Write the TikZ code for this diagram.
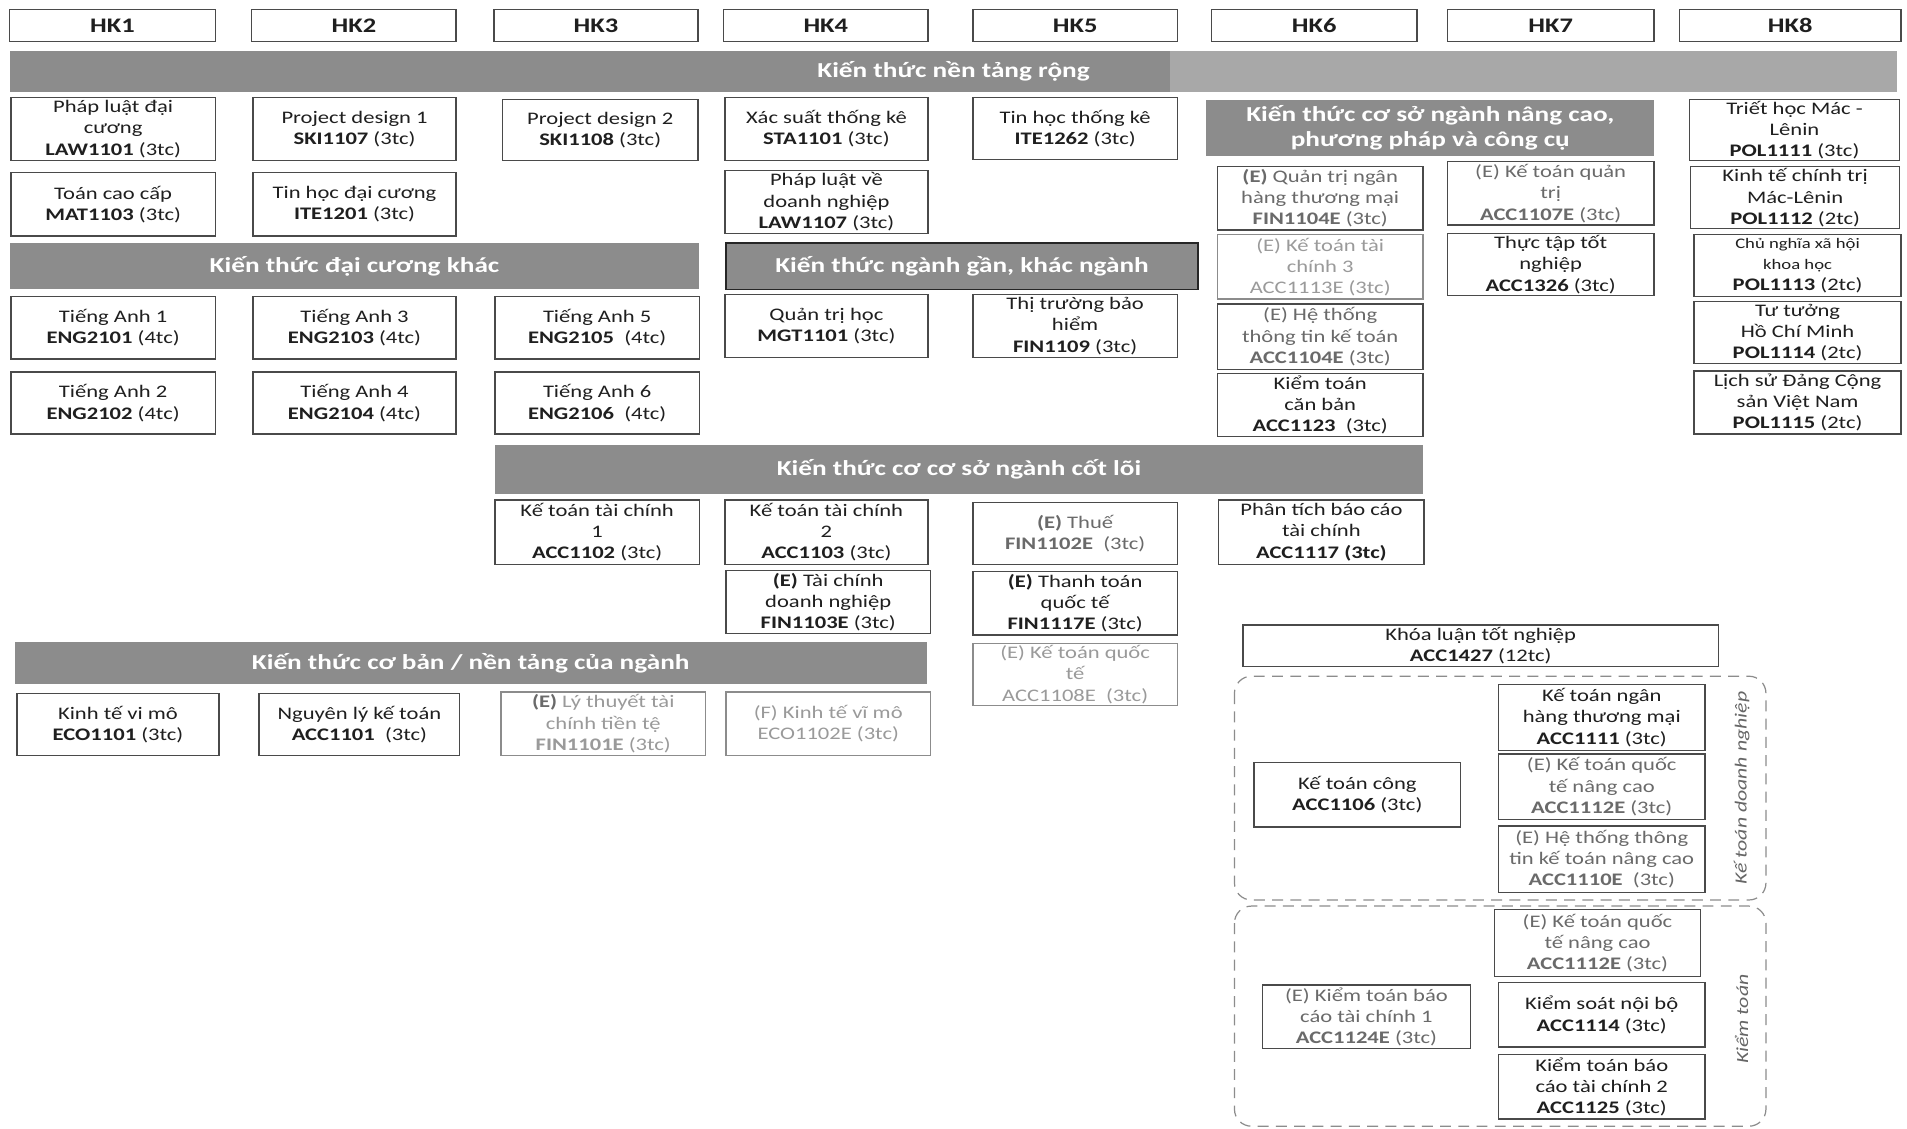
\documentclass[tikz,border=0pt]{standalone}
\usepackage{fontspec}
\setmainfont{Carlito}[FakeStretch=1.28]
\definecolor{bannergray}{HTML}{8C8C8C}
\definecolor{bannerlight}{HTML}{A8A8A8}
\definecolor{boxline}{HTML}{4A4A4A}
\definecolor{fadetext}{HTML}{9A9A9A}
\definecolor{midtext}{HTML}{6A6A6A}
\newcommand\cb[7]{\node[box,#6,minimum width={(#4-#2)*1pt},minimum height={(#5-#3)*1pt}] (#1) at ({(#2+#4)/2},{(#3+#5)/2}) {#7};}
\newcommand\bn[7]{\node[banner,#6,minimum width={(#4-#2)*1pt},minimum height={(#5-#3)*1pt}] (#1) at ({(#2+#4)/2},{(#3+#5)/2}) {#7};}
\tikzset{
  box/.style={draw=boxline, line width=1.2pt, fill=white, inner sep=1pt, align=center,
    text=black!88, font=\fontsize{14.5}{17.5}\selectfont},
  hk/.style={font=\fontsize{17}{20}\selectfont\bfseries},
  faded/.style={draw=black!45, text=fadetext},
  mid/.style={text=midtext},
  banner/.style={fill=bannergray, draw=none, inner sep=1pt, align=center, text=white,
    font=\fontsize{17.5}{22}\selectfont\bfseries},
  grp/.style={draw=black!45, line width=1pt, dash pattern=on 9pt off 6pt, rounded corners=14pt},
  grplabel/.style={rotate=90, text=black!60, font=\fontsize{14}{17}\selectfont\itshape}
}
\begin{document}
\begin{tikzpicture}[x=1pt,y=-1pt]
\useasboundingbox[fill=white] (0,0) rectangle (1568,928.3);
% headers
\cb{hk1}{8}{8}{177}{34}{hk}{HK1}
\cb{hk2}{207}{8}{375}{34}{hk}{HK2}
\cb{hk3}{406}{8}{574}{34}{hk}{HK3}
\cb{hk4}{595}{8}{763}{34}{hk}{HK4}
\cb{hk5}{800}{8}{968}{34}{hk}{HK5}
\cb{hk6}{996}{8}{1165}{34}{hk}{HK6}
\cb{hk7}{1190}{8}{1360}{34}{hk}{HK7}
\cb{hk8}{1381}{8}{1563}{34}{hk}{HK8}
% banners
\bn{bA}{8}{42}{1560}{76}{}{Kiến thức nền tảng rộng}
\fill[bannerlight] (962,42) rectangle (1560,76);
\bn{bB}{992}{82}{1360}{128}{font=\fontsize{17.5}{21}\selectfont\bfseries}{Kiến thức cơ sở ngành nâng cao,\\phương pháp và công cụ}
\bn{bC}{8}{200}{575}{238}{}{Kiến thức đại cương khác}
\bn{bD}{597}{200}{985}{238}{draw=black!85, line width=1.5pt}{Kiến thức ngành gần, khác ngành}
\bn{bE}{407}{366}{1170}{406}{}{Kiến thức cơ cơ sở ngành cốt lõi}
\bn{bF}{12}{528}{762}{562}{}{Kiến thức cơ bản / nền tảng của ngành}
% row 1
\cb{law1101}{9}{80}{177}{132}{}{Pháp luật đại\\cương\\\textbf{LAW1101} (3tc)}
\cb{ski1107}{208}{80}{375}{132}{}{Project design 1\\\textbf{SKI1107} (3tc)}
\cb{ski1108}{413}{82}{574}{132}{}{Project design 2\\\textbf{SKI1108} (3tc)}
\cb{sta1101}{596}{80}{763}{132}{}{Xác suất thống kê\\\textbf{STA1101} (3tc)}
\cb{ite1262}{800}{80}{968}{131}{}{Tin học thống kê\\\textbf{ITE1262} (3tc)}
\cb{pol1111}{1389}{82}{1562}{132}{}{Triết học Mác -\\Lênin\\\textbf{POL1111} (3tc)}
% row 2
\cb{mat1103}{9}{142}{177}{194}{}{Toán cao cấp\\\textbf{MAT1103} (3tc)}
\cb{ite1201}{208}{142}{375}{194}{}{Tin học đại cương\\\textbf{ITE1201} (3tc)}
\cb{law1107}{596}{140}{763}{192}{}{Pháp luật về\\doanh nghiệp\\\textbf{LAW1107} (3tc)}
\cb{fin1104e}{1001}{137}{1170}{189}{mid}{\textbf{(E)} Quản trị ngân\\hàng thương mại\\\textbf{FIN1104E} (3tc)}
\cb{acc1107e}{1190}{133}{1360}{185}{mid}{(E) Kế toán quản\\trị\\\textbf{ACC1107E} (3tc)}
\cb{pol1112}{1390}{137}{1562}{188}{}{Kinh tế chính trị\\Mác-Lênin\\\textbf{POL1112} (2tc)}
\cb{acc1326}{1190}{192}{1360}{243}{}{Thực tập tốt\\nghiệp\\\textbf{ACC1326} (3tc)}
\cb{pol1113}{1393}{193}{1563}{244}{}{{\fontsize{12}{17.5}\selectfont Chủ nghĩa xã hội}\\{\fontsize{12}{17.5}\selectfont khoa học}\\\textbf{POL1113} (2tc)}
\cb{acc1113e}{1001}{193}{1170}{246}{faded}{(E) Kế toán tài\\chính 3\\ACC1113E (3tc)}
\cb{acc1104e}{1001}{250}{1170}{304}{mid}{(E) Hệ thống\\thông tin kế toán\\\textbf{ACC1104E} (3tc)}
\cb{pol1114}{1393}{248}{1563}{299}{}{Tư tưởng\\Hồ Chí Minh\\\textbf{POL1114} (2tc)}
\cb{acc1123}{1001}{307}{1170}{359}{}{Kiểm toán\\căn bản\\\textbf{ACC1123}\ \ (3tc)}
\cb{pol1115}{1393}{305}{1563}{357}{}{Lịch sử Đảng Cộng\\sản Việt Nam\\\textbf{POL1115} (2tc)}
% English and related
\cb{eng2101}{9}{244}{177}{295}{}{Tiếng Anh 1\\\textbf{ENG2101} (4tc)}
\cb{eng2103}{208}{244}{375}{295}{}{Tiếng Anh 3\\\textbf{ENG2103} (4tc)}
\cb{eng2105}{407}{244}{575}{295}{}{Tiếng Anh 5\\\textbf{ENG2105}\ \ (4tc)}
\cb{mgt1101}{596}{242}{763}{294}{}{Quản trị học\\\textbf{MGT1101} (3tc)}
\cb{fin1109}{800}{242}{968}{294}{}{Thị trường bảo\\hiểm\\\textbf{FIN1109} (3tc)}
\cb{eng2102}{9}{306}{177}{357}{}{Tiếng Anh 2\\\textbf{ENG2102} (4tc)}
\cb{eng2104}{208}{306}{375}{357}{}{Tiếng Anh 4\\\textbf{ENG2104} (4tc)}
\cb{eng2106}{407}{306}{575}{357}{}{Tiếng Anh 6\\\textbf{ENG2106}\ \ (4tc)}
% core
\cb{acc1102}{407}{411}{575}{464}{}{Kế toán tài chính\\1\\\textbf{ACC1102} (3tc)}
\cb{acc1103}{596}{411}{763}{464}{}{Kế toán tài chính\\2\\\textbf{ACC1103} (3tc)}
\cb{fin1102e}{800}{413}{968}{464}{mid}{\textbf{(E)} Thuế\\\textbf{FIN1102E}\ \ (3tc)}
\cb{acc1117}{1002}{411}{1171}{464}{}{Phân tích báo cáo\\tài chính\\\textbf{ACC1117 (3tc)}}
\cb{fin1103e}{597}{469}{765}{521}{}{\textbf{(E)} Tài chính\\doanh nghiệp\\\textbf{FIN1103E} (3tc)}
\cb{fin1117e}{800}{470}{968}{522}{}{\textbf{(E)} Thanh toán\\quốc tế\\\textbf{FIN1117E} (3tc)}
\cb{acc1108e}{800}{529}{968}{580}{faded}{(E) Kế toán quốc\\tế\\ACC1108E\ \ (3tc)}
\cb{acc1427}{1022}{514}{1413}{548}{}{Khóa luận tốt nghiệp\\\textbf{ACC1427} (12tc)}
% basic
\cb{eco1101}{14}{570}{180}{621}{}{Kinh tế vi mô\\\textbf{ECO1101} (3tc)}
\cb{acc1101}{213}{570}{378}{621}{}{Nguyên lý kế toán\\\textbf{ACC1101}\ \ (3tc)}
\cb{fin1101e}{412}{569}{580}{621}{faded}{\textbf{\color{midtext}(E)} Lý thuyết tài\\chính tiền tệ\\\textbf{FIN1101E} (3tc)}
\cb{eco1102e}{597}{569}{765}{621}{faded}{(F) Kinh tế vĩ mô\\ECO1102E (3tc)}
% group 1
\draw[grp] (1015,556) rectangle (1452,740);
\node[grplabel] (lbl1) at (1432,648) {Kế toán doanh nghiệp};
\cb{acc1111}{1232}{563}{1402}{617}{}{Kế toán ngân\\hàng thương mại\\\textbf{ACC1111} (3tc)}
\cb{acc1112ea}{1232}{620}{1402}{674}{mid}{(E) Kế toán quốc\\tế nâng cao\\\textbf{ACC1112E} (3tc)}
\cb{acc1110e}{1232}{679}{1402}{734}{mid}{(E) Hệ thống thông\\tin kế toán nâng cao\\\textbf{ACC1110E}\ \ (3tc)}
\cb{acc1106}{1031}{627}{1201}{680}{}{Kế toán công\\\textbf{ACC1106} (3tc)}
% group 2
\draw[grp] (1015,745) rectangle (1452,926);
\node[grplabel] (lbl2) at (1432,838) {Kiểm toán};
\cb{acc1112eb}{1229}{748}{1398}{803}{mid}{(E) Kế toán quốc\\tế nâng cao\\\textbf{ACC1112E} (3tc)}
\cb{acc1114}{1232}{808}{1402}{861}{}{Kiểm soát nội bộ\\\textbf{ACC1114} (3tc)}
\cb{acc1125}{1232}{867}{1402}{920}{}{Kiểm toán báo\\cáo tài chính 2\\\textbf{ACC1125} (3tc)}
\cb{acc1124e}{1038}{810}{1209}{862}{mid}{(E) Kiểm toán báo\\cáo tài chính 1\\\textbf{ACC1124E} (3tc)}
\end{tikzpicture}
\end{document}
